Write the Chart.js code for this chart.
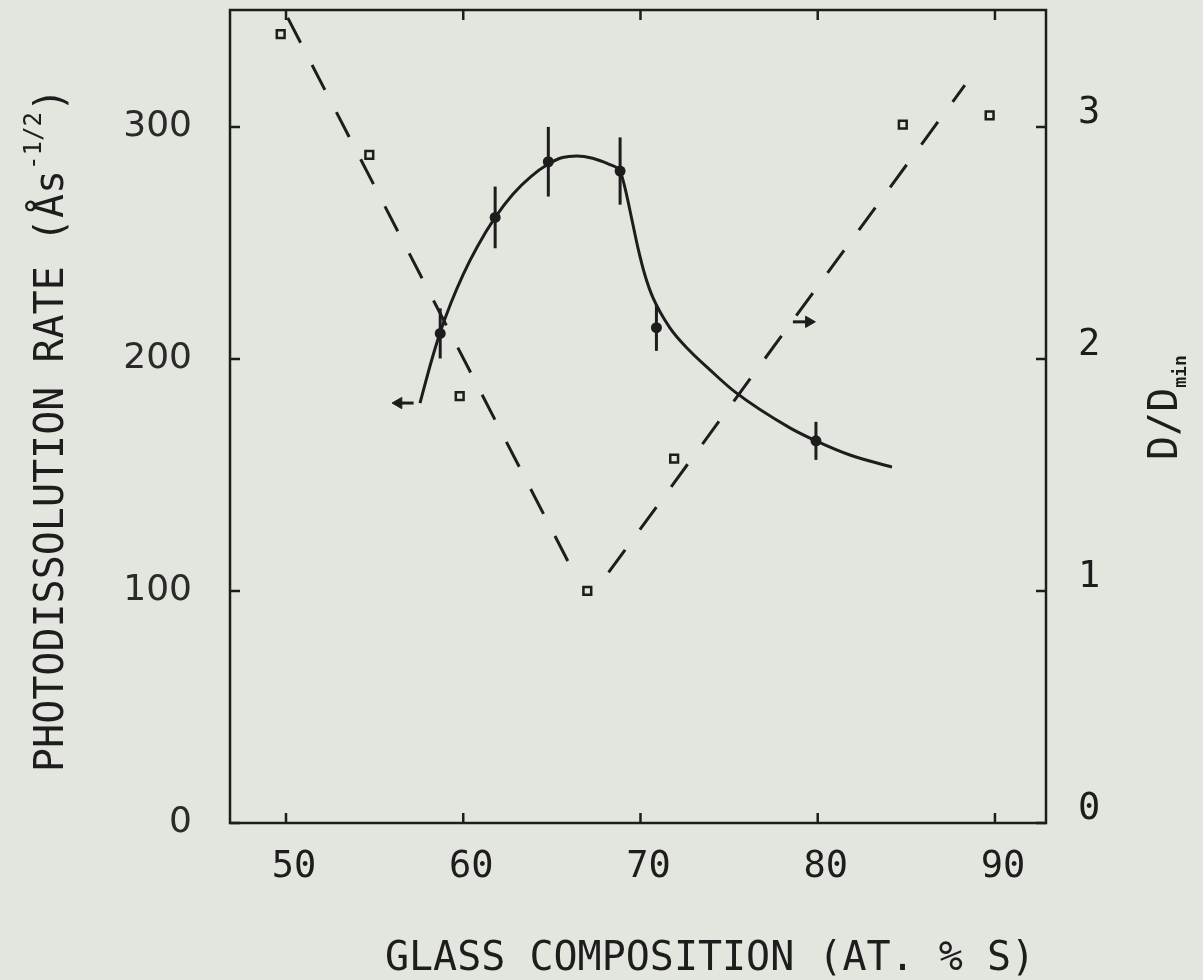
<!DOCTYPE html>
<html>
<head>
<meta charset="utf-8">
<title>Photodissolution rate vs. glass composition</title>
<script src="https://cdn.jsdelivr.net/npm/chart.js@4.4.0/dist/chart.umd.min.js"></script>
<style>
    body { margin: 0; background: #e3e6df; }
    #wrap { width: 1203px; height: 980px; }
</style>
</head>
<body>
<div id="wrap"><canvas id="canvas" width="1203" height="980"></canvas></div>
<script>
// fitted curve of the photodissolution rate (left axis)
const curveX = [57.56, 58.2, 58.7, 59.3, 60.0, 60.8, 61.8, 62.8, 63.8, 64.8, 65.6, 66.4, 67.3, 68.28,
    68.62, 68.84, 69.01, 69.18, 69.52, 69.86, 70.25, 70.71, 71.66, 72.79, 73.92, 75.33,
    78.43, 79.90, 81.82, 84.19];
const curveY = [181.0, 199.0, 211.5, 224.0, 236.5, 248.5, 261.0, 271.0, 278.5, 284.0, 286.8, 287.5, 286.5, 283.8,
    282.6, 281.0, 277.2, 272.0, 259.9, 247.8, 236.2, 226.3, 213.4, 203.4, 195.3, 185.8,
    170.3, 164.7, 158.6, 153.4];

// measured rates with their error
const rateX = [58.7, 61.8, 64.8, 68.85, 70.9, 79.9];
const rateY = [211, 261, 285, 281, 213.5, 164.7];
const rateErr = [10.8, 13.3, 15, 14.5, 10, 8.2];

// D/Dmin (right axis)
const ratioX = [49.7, 54.7, 59.8, 67.0, 71.9, 84.8, 89.7];
const ratioY = [3.40, 2.88, 1.84, 1.00, 1.57, 3.01, 3.05];

// dashed straight lines through the D/Dmin points
const leftLineX = [50.1, 66.3];
const leftLineY = [3.47, 1.07];
const rightLineX = [68.2, 88.3];
const rightLineY = [1.08, 3.18];

// arrows telling which axis belongs to which curve
const leftArrowX = [57.2, 56.35];
const leftArrowY = [181, 181];
const rightArrowX = [78.6, 79.5];
const rightArrowY = [2.16, 2.16];

const INK = '#1d1d1d';

function toPoints(xs, ys) {
    let pts = [];
    for (let i = 0; i < xs.length; i++) {
        pts.push({x: xs[i], y: ys[i]});
    }
    return pts;
}

const errorBars = {
    id: 'errorBars',
    afterDatasetsDraw(chart) {
        let ctx = chart.ctx;
        let sx = chart.scales.x;
        let sy = chart.scales.y;
        ctx.save();
        ctx.strokeStyle = INK;
        ctx.lineWidth = 3;
        for (let i = 0; i < rateX.length; i++) {
            let px = sx.getPixelForValue(rateX[i]);
            ctx.beginPath();
            ctx.moveTo(px, sy.getPixelForValue(rateY[i] + rateErr[i]));
            ctx.lineTo(px, sy.getPixelForValue(rateY[i] - rateErr[i]));
            ctx.stroke();
        }
        ctx.restore();
    }
};

// box round the plot with ticks pointing inwards
const frame = {
    id: 'frame',
    afterDraw(chart) {
        let ctx = chart.ctx;
        let a = chart.chartArea;
        let len = 10;
        ctx.save();
        ctx.strokeStyle = INK;
        ctx.lineWidth = 2.5;
        ctx.strokeRect(a.left, a.top, a.right - a.left, a.bottom - a.top);
        ctx.beginPath();
        chart.scales.x.ticks.forEach(t => {
            let px = chart.scales.x.getPixelForValue(t.value);
            ctx.moveTo(px, a.bottom); ctx.lineTo(px, a.bottom - len);
            ctx.moveTo(px, a.top); ctx.lineTo(px, a.top + len);
        });
        chart.scales.y.ticks.forEach(t => {
            let py = chart.scales.y.getPixelForValue(t.value);
            ctx.moveTo(a.left, py); ctx.lineTo(a.left + len, py);
        });
        chart.scales.y2.ticks.forEach(t => {
            let py = chart.scales.y2.getPixelForValue(t.value);
            ctx.moveTo(a.right, py); ctx.lineTo(a.right - len, py);
        });
        ctx.stroke();
        ctx.restore();
    }
};

const axisTitles = {
    id: 'axisTitles',
    afterDraw(chart) {
        let ctx = chart.ctx;
        ctx.save();
        ctx.fillStyle = INK;
        ctx.textBaseline = 'alphabetic';

        // bottom
        ctx.font = '40px "DejaVu Sans Mono"';
        ctx.textAlign = 'center';
        ctx.fillText('GLASS COMPOSITION (AT. % S)', 710, 970);

        // left, with the superscript
        let main = 'PHOTODISSOLUTION RATE (Ås';
        let sup = '-1/2';
        ctx.textAlign = 'left';
        ctx.font = '40px "DejaVu Sans Mono"';
        let w1 = ctx.measureText(main).width;
        let w3 = ctx.measureText(')').width;
        ctx.font = '24px "DejaVu Sans Mono"';
        let w2 = ctx.measureText(sup).width;
        let start = -(w1 + w2 + w3) / 2;
        ctx.save();
        ctx.translate(63, 430);
        ctx.rotate(-Math.PI / 2);
        ctx.font = '40px "DejaVu Sans Mono"';
        ctx.fillText(main, start, 0);
        ctx.fillText(')', start + w1 + w2, 0);
        ctx.font = '24px "DejaVu Sans Mono"';
        ctx.fillText(sup, start + w1, -22);
        ctx.restore();

        // right, with the subscript
        ctx.save();
        ctx.translate(1177, 460);
        ctx.rotate(-Math.PI / 2);
        ctx.font = '40px "DejaVu Sans Mono"';
        let wd = ctx.measureText('D/D').width;
        ctx.fillText('D/D', 0, 0);
        ctx.font = 'bold 18px "DejaVu Sans Mono"';
        ctx.fillText('min', wd, 9);
        ctx.restore();

        ctx.restore();
    }
};

// the axes keep a fixed size so the plot box sits where it should
function fixWidth(w) {
    return s => { s.width = w; s.paddingTop = 0; s.paddingBottom = 0; };
}

let ctx = document.getElementById('canvas').getContext('2d');
let myChart = new Chart(ctx, {
    type: 'scatter',
    data: {
        datasets: [
            {
                label: 'fit',
                data: toPoints(curveX, curveY),
                showLine: true,
                borderColor: INK,
                borderWidth: 3,
                pointRadius: 0,
                cubicInterpolationMode: 'monotone',
                yAxisID: 'y'
            },
            {
                label: 'rate',
                data: toPoints(rateX, rateY),
                pointRadius: 5.5,
                pointBackgroundColor: INK,
                pointBorderColor: INK,
                pointBorderWidth: 0,
                yAxisID: 'y'
            },
            {
                label: 'left line',
                data: toPoints(leftLineX, leftLineY),
                showLine: true,
                borderColor: INK,
                borderWidth: 3,
                borderDash: [28, 25],
                pointRadius: 0,
                yAxisID: 'y2'
            },
            {
                label: 'right line',
                data: toPoints(rightLineX, rightLineY),
                showLine: true,
                borderColor: INK,
                borderWidth: 3,
                borderDash: [28, 25],
                pointRadius: 0,
                yAxisID: 'y2'
            },
            {
                label: 'D/Dmin',
                data: toPoints(ratioX, ratioY),
                pointStyle: 'rect',
                pointRadius: 5.5,
                pointBackgroundColor: '#e3e6df',
                pointBorderColor: INK,
                pointBorderWidth: 2.5,
                yAxisID: 'y2'
            },
            {
                label: 'left arrow',
                data: toPoints(leftArrowX, leftArrowY),
                showLine: true,
                borderColor: INK,
                borderWidth: 3,
                pointStyle: 'triangle',
                pointRadius: [0, 6.5],
                pointRotation: [0, -90],
                pointBackgroundColor: INK,
                pointBorderColor: INK,
                pointBorderWidth: 1,
                yAxisID: 'y'
            },
            {
                label: 'right arrow',
                data: toPoints(rightArrowX, rightArrowY),
                showLine: true,
                borderColor: INK,
                borderWidth: 3,
                pointStyle: 'triangle',
                pointRadius: [0, 6.5],
                pointRotation: [0, 90],
                pointBackgroundColor: INK,
                pointBorderColor: INK,
                pointBorderWidth: 1,
                yAxisID: 'y2'
            }
        ]
    },
    options: {
        responsive: false,
        animation: false,
        layout: {padding: {top: 10, left: 0, right: 0, bottom: 0}},
        plugins: {
            legend: {display: false},
            tooltip: {enabled: false}
        },
        scales: {
            x: {
                type: 'linear',
                position: 'bottom',
                min: 46.84,
                max: 92.88,
                grid: {display: false},
                border: {display: false},
                afterFit: s => { s.height = 157; s.paddingLeft = 0; s.paddingRight = 0; },
                ticks: {
                    stepSize: 10,
                    includeBounds: false,
                    padding: 14,
                    labelOffset: 8,
                    color: INK,
                    font: {family: 'DejaVu Sans Mono', size: 37}
                }
            },
            y: {
                type: 'linear',
                position: 'left',
                min: 0,
                max: 350.4,
                grid: {display: false},
                border: {display: false},
                afterFit: fixWidth(230),
                ticks: {
                    stepSize: 100,
                    includeBounds: false,
                    padding: 30,
                    color: '#2a2a2a',
                    font: {family: 'DejaVu Sans', size: 36}
                }
            },
            y2: {
                type: 'linear',
                position: 'right',
                min: 0,
                max: 3.504,
                grid: {display: false},
                border: {display: false},
                afterFit: fixWidth(157),
                ticks: {
                    stepSize: 1,
                    includeBounds: false,
                    padding: 24,
                    labelOffset: -14,
                    color: INK,
                    font: {family: 'DejaVu Sans Mono', size: 37}
                }
            }
        }
    },
    plugins: [errorBars, frame, axisTitles]
});
</script>
</body>
</html>
